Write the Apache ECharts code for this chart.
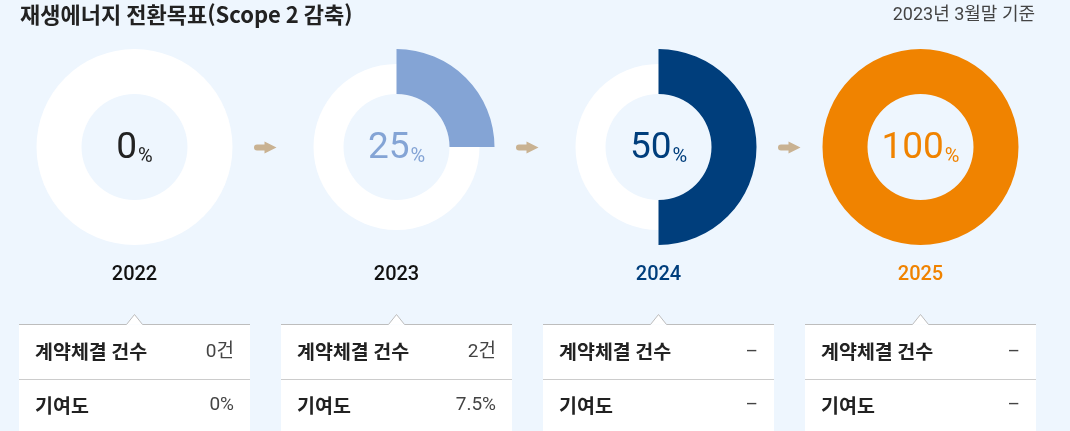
<!DOCTYPE html>
<html lang="ko">
<head>
<meta charset="utf-8">
<title>재생에너지 전환목표</title>
<script src="https://cdn.jsdelivr.net/npm/echarts@6/dist/echarts.min.js"></script>
<style>
  html, body { margin: 0; padding: 0; background: #eef6fe; }
  #chart { width: 1070px; height: 431px; }
</style>
</head>
<body>
<div id="chart"></div>
<script>
const years = ['2022', '2023', '2024', '2025']
const shares = [0, 25, 50, 100]
const contractCounts = ['0건', '2건', '–', '–']
const contributions = ['0%', '7.5%', '–', '–']
const rowLabels = ['계약체결 건수', '기여도']

const shareColors = ['#222222', '#84a4d5', '#003e7c', '#f08300']
const yearColors = ['#111111', '#111111', '#003e7c', '#f08300']

const FONT = 'Roboto, "Noto Sans CJK KR", sans-serif'
const KR = '"Noto Sans CJK KR", Roboto, sans-serif'

// layout
const firstX = 134.5
const stepX = 262
const cy = 147
const rIn = 53
const rOut = 98
const rRest = 83
const boxW = 231
const boxTop = 324.5

const centers = years.map((_, i) => firstX + i * stepX)

const series = []
years.forEach((y, i) => {
  const cx = centers[i]
  const v = shares[i]
  if (v < 100) {
    // white remainder ring (full size when nothing is reached yet)
    series.push({
      type: 'pie',
      silent: true,
      center: [cx, cy],
      radius: [rIn, v === 0 ? rOut : rRest],
      label: { show: false },
      labelLine: { show: false },
      data: [{ value: 1, itemStyle: { color: '#ffffff' } }],
    })
  }
  series.push({
    type: 'pie',
    silent: true,
    center: [cx, cy],
    radius: [rIn, rOut],
    startAngle: 90,
    clockwise: true,
    labelLine: { show: false },
    label: {
      show: true,
      position: 'center',
      formatter: (p) => (p.dataIndex === 0 ? `{n|${v}}{p|%}` : ''),
      rich: {
        n: { fontFamily: FONT, fontSize: 37, color: shareColors[i], verticalAlign: 'bottom', lineHeight: 40 },
        p: { fontFamily: FONT, fontSize: 20, color: shareColors[i], verticalAlign: 'bottom', lineHeight: 36, padding: [0, 0, 0, 1] },
      },
    },
    data: [
      { value: v, itemStyle: { color: shareColors[i] } },
      { value: 100 - v, itemStyle: { color: 'transparent' } },
    ],
  })
})

const graphics = []

// arrows between donuts
for (let i = 0; i < years.length - 1; i++) {
  const ax = (centers[i] + centers[i + 1]) / 2
  graphics.push({
    type: 'rect',
    shape: { x: ax - 11.5, y: cy - 2.5, width: 14, height: 6, r: 3 },
    style: { fill: '#c9b292' },
  })
  graphics.push({
    type: 'polygon',
    shape: { points: [[ax - 1, cy - 5.5], [ax + 11, cy + 0.5], [ax - 1, cy + 6.5]] },
    style: { fill: '#c9b292' },
  })
}

years.forEach((y, i) => {
  const cx = centers[i]
  const x0 = cx - boxW / 2
  const x1 = cx + boxW / 2
  // year label
  graphics.push({
    type: 'text',
    x: cx,
    y: 275,
    style: {
      text: y,
      fill: yearColors[i],
      font: `500 20px ${FONT}`,
      align: 'center',
      verticalAlign: 'middle',
    },
  })
  // info box
  graphics.push({
    type: 'rect',
    shape: { x: x0, y: boxTop, width: boxW, height: 431 - boxTop + 2 },
    style: { fill: '#ffffff' },
  })
  graphics.push({
    type: 'polygon',
    shape: { points: [[cx - 8, boxTop], [cx, boxTop - 10], [cx + 8, boxTop]] },
    style: { fill: '#ffffff' },
  })
  graphics.push({
    type: 'polyline',
    shape: { points: [[x0, boxTop], [cx - 8, boxTop], [cx, boxTop - 10], [cx + 8, boxTop], [x1, boxTop]] },
    style: { stroke: '#bdbdbd', lineWidth: 1, fill: null },
  })
  graphics.push({
    type: 'line',
    shape: { x1: x0, y1: 379.5, x2: x1, y2: 379.5 },
    style: { stroke: '#cccccc', lineWidth: 1 },
  })
  const values = [contractCounts[i], contributions[i]]
  const rowY = [352, 405.5]
  rowLabels.forEach((lab, r) => {
    graphics.push({
      type: 'text',
      x: x0 + 16,
      y: rowY[r],
      style: { text: lab, fill: '#222222', font: `bold 19.5px ${KR}`, verticalAlign: 'middle' },
    })
    graphics.push({
      type: 'text',
      x: x1 - 16,
      y: rowY[r],
      style: { text: values[r], fill: '#444444', font: `19px ${FONT}`, align: 'right', verticalAlign: 'middle' },
    })
  })
})

// headings
graphics.push({
  type: 'text',
  x: 20,
  y: 14.5,
  style: { text: '재생에너지 전환목표(Scope 2 감축)', fill: '#222222', font: `bold 22px ${KR}`, verticalAlign: 'middle' },
})
graphics.push({
  type: 'text',
  x: 1035,
  y: 15,
  style: { text: '2023년 3월말 기준', fill: '#444444', font: `18px ${FONT}`, align: 'right', verticalAlign: 'middle' },
})

const chart = echarts.init(document.getElementById('chart'), null, { renderer: 'canvas' })
chart.setOption({
  backgroundColor: '#eef6fe',
  animation: false,
  series,
  graphic: { elements: graphics },
})
</script>
</body>
</html>
